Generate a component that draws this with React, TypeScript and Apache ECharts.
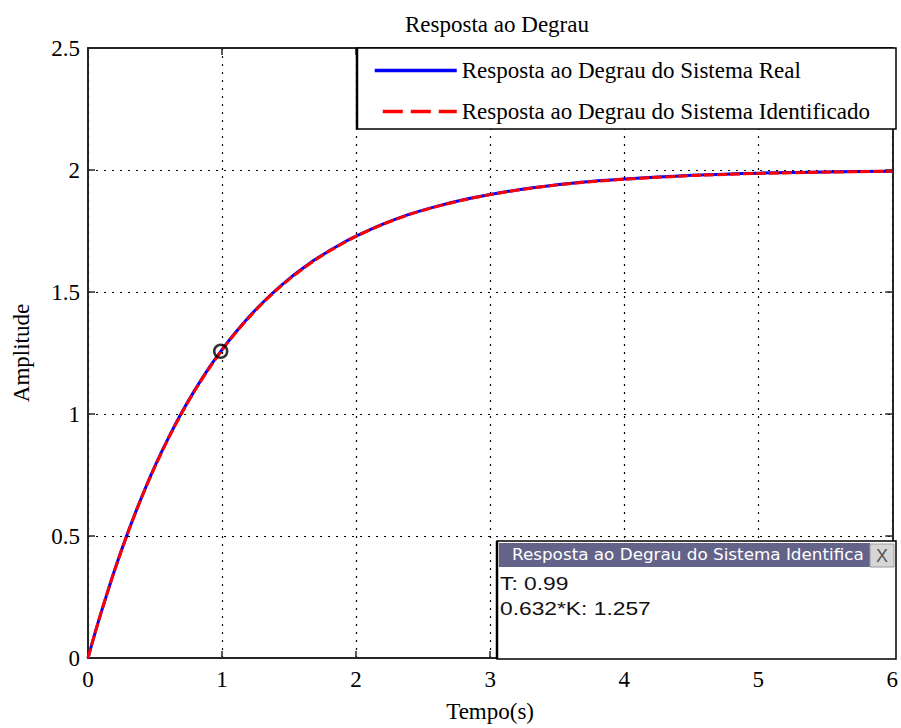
import React, { useEffect, useRef } from "react";
import * as echarts from "echarts";

const chartTitle = "Resposta ao Degrau";
const xAxisName = "Tempo(s)";
const yAxisName = "Amplitude";
const seriesNames = [
  "Resposta ao Degrau do Sistema Real",
  "Resposta ao Degrau do Sistema Identificado",
];
const timeS = [0, 0.05, 0.1, 0.2, 0.3, 0.4, 0.5, 0.6, 0.7, 0.8, 0.9, 1.0, 1.1, 1.2, 1.3, 1.4, 1.5, 1.6, 1.7, 1.8, 1.9, 2.0, 2.2, 2.4, 2.6, 2.8, 3.0, 3.25, 3.5, 3.75, 4.0, 4.25, 4.5, 4.75, 5.0, 5.5, 6.0];
const realResponse = [0, 0.098, 0.19, 0.363, 0.518, 0.659, 0.787, 0.902, 1.007, 1.101, 1.187, 1.264, 1.334, 1.398, 1.455, 1.507, 1.554, 1.596, 1.635, 1.669, 1.701, 1.729, 1.778, 1.819, 1.851, 1.878, 1.9, 1.922, 1.94, 1.953, 1.963, 1.971, 1.978, 1.983, 1.987, 1.992, 1.995];
const identifiedResponse = [0, 0.098, 0.19, 0.362, 0.517, 0.658, 0.785, 0.9, 1.004, 1.099, 1.184, 1.262, 1.332, 1.395, 1.453, 1.505, 1.552, 1.594, 1.633, 1.668, 1.699, 1.728, 1.777, 1.818, 1.85, 1.877, 1.899, 1.921, 1.939, 1.952, 1.962, 1.97, 1.977, 1.982, 1.986, 1.991, 1.995];
const markerT = 0.99;
const markerAmp = 1.257;
const tipTitle = "Resposta ao Degrau do Sistema Identificado";
const tipLines = ["T: 0.99", "0.632*K: 1.257"];

const SERIF = "'Liberation Serif', 'Times New Roman', serif";
const SANS = "'Liberation Sans', Arial, sans-serif";
const AXIS_COLOR = "#262626";

export default function App() {
  const ref = useRef<HTMLDivElement>(null);
  useEffect(() => {
    if (!ref.current) return;
    const chart = echarts.init(ref.current, undefined, { renderer: "svg" });
    const realData = timeS.map((t, i) => [t, realResponse[i]]);
    const identData = timeS.map((t, i) => [t, identifiedResponse[i]]);
    const gl = 88, gr = 896, gt = 48, gb = 659;

    const baseX = { type: "value", min: 0, max: 6, interval: 1 };
    const baseY = { type: "value", min: 0, max: 2.5, interval: 0.5 };
    const axisLine = { show: true, onZero: false, lineStyle: { color: AXIS_COLOR, width: 2 } };
    const axisTick = { show: true, inside: true, length: 7, lineStyle: { color: AXIS_COLOR, width: 1.5 } };
    const gridLine = { show: true, lineStyle: { color: "#000", type: [2, 6], width: 1.2 } };

    chart.setOption({
      animation: false,
      backgroundColor: "#ffffff",
      title: {
        text: chartTitle,
        left: (gl + gr) / 2,
        textAlign: "center",
        top: 8,
        textStyle: { fontFamily: SERIF, fontSize: 23, fontWeight: "normal", color: "#000" },
      },
      grid: { left: gl, right: 901 - gr, top: gt, bottom: 728 - gb },
      legend: {
        orient: "vertical",
        left: 373,
        top: 59,
        padding: 0,
        itemWidth: 82,
        itemHeight: 14,
        itemGap: 18,
        selectedMode: false,
        itemStyle: { opacity: 0 },
        textStyle: { fontFamily: SERIF, fontSize: 23, color: "#000", padding: [0, 0, 0, 0] },
        z: 20,
        data: [
          { name: seriesNames[0], lineStyle: { width: 3.5, color: "#0000ff", type: "solid" } },
          { name: seriesNames[1], lineStyle: { width: 3.5, color: "#ff0000", type: [20, 8], dashOffset: 20 } },
        ],
      },
      xAxis: [
        {
          ...baseX,
          position: "bottom",
          name: xAxisName,
          nameLocation: "middle",
          nameGap: 42,
          nameTextStyle: { fontFamily: SERIF, fontSize: 23, color: "#000" },
          axisLine,
          axisTick,
          axisLabel: { fontFamily: SERIF, fontSize: 23, color: "#000", margin: 10 },
          splitLine: gridLine,
        },
        {
          ...baseX,
          position: "top",
          axisLine,
          axisTick,
          axisLabel: { show: false },
          splitLine: { show: false },
        },
      ],
      yAxis: [
        {
          ...baseY,
          position: "left",
          name: yAxisName,
          nameLocation: "middle",
          nameGap: 55,
          nameTextStyle: { fontFamily: SERIF, fontSize: 23, color: "#000" },
          axisLine,
          axisTick,
          axisLabel: { fontFamily: SERIF, fontSize: 23, color: "#000", margin: 8 },
          splitLine: gridLine,
        },
        {
          ...baseY,
          position: "right",
          axisLine,
          axisTick,
          axisLabel: { show: false },
          splitLine: { show: false },
        },
      ],
      series: [
        {
          name: seriesNames[0],
          type: "line",
          data: realData,
          smooth: 0.3,
          symbol: "none",
          lineStyle: { color: "#0000ff", width: 3 },
          itemStyle: { color: "#0000ff" },
          z: 3,
        },
        {
          name: seriesNames[1],
          type: "line",
          data: identData,
          smooth: 0.3,
          symbol: "none",
          lineStyle: { color: "#ff0000", width: 3, type: [10, 3] },
          itemStyle: { color: "#ff0000" },
          z: 4,
        },
        {
          name: "marker",
          type: "scatter",
          data: [[markerT, markerAmp]],
          symbol: "circle",
          symbolSize: 13,
          itemStyle: { color: "rgba(0,0,0,0)", borderColor: "#000", borderWidth: 2.5 },
          z: 6,
          silent: true,
        },
      ],
      graphic: [
        {
          type: "rect",
          z: 10,
          shape: { x: 357, y: 48, width: gr - 357, height: 81 },
          style: { fill: "#fff", stroke: "#000", lineWidth: 1.5 },
        },
        {
          type: "line",
          z: 11,
          shape: { x1: 357, y1: 48, x2: 357, y2: 129 },
          style: { stroke: "#000", lineWidth: 2.5 },
        },
        {
          type: "rect",
          z: 10,
          shape: { x: 497, y: 541, width: gr - 497, height: gb - 541 },
          style: { fill: "#fff", stroke: "#000", lineWidth: 1.5 },
        },
        {
          type: "line",
          z: 11,
          shape: { x1: 497, y1: 541, x2: 497, y2: gb },
          style: { stroke: "#000", lineWidth: 2.5 },
        },
        {
          type: "rect",
          z: 11,
          shape: { x: 499, y: 543, width: 371, height: 24 },
          style: { fill: "#63638a" },
        },
        {
          type: "text",
          z: 12,
          x: 512,
          y: 555,
          scaleX: 1.12,
          style: {
            text: tipTitle,
            fontFamily: "'DejaVu Sans', Tahoma, sans-serif",
            fontSize: 15,
            fill: "#fff",
            verticalAlign: "middle",
            width: 318,
            overflow: "truncate",
            ellipsis: "",
          },
        },
        {
          type: "rect",
          z: 12,
          shape: { x: 870, y: 544, width: 24, height: 23 },
          style: { fill: "#d6d6d6", stroke: "#9a9a9a", lineWidth: 1 },
        },
        {
          type: "text",
          z: 13,
          x: 882,
          y: 556,
          style: {
            text: "X",
            fontFamily: SANS,
            fontSize: 18,
            fill: "#555",
            align: "center",
            verticalAlign: "middle",
          },
        },
        {
          type: "text",
          z: 12,
          x: 500,
          y: 583,
          scaleX: 1.2,
          style: { text: tipLines[0], fontFamily: SANS, fontSize: 19, fill: "#111", verticalAlign: "middle" },
        },
        {
          type: "text",
          z: 12,
          x: 500,
          y: 608,
          scaleX: 1.2,
          style: { text: tipLines[1], fontFamily: SANS, fontSize: 19, fill: "#111", verticalAlign: "middle" },
        },
      ],
    });
    return () => chart.dispose();
  }, []);
  return (
    <div
      ref={ref}
      style={{ position: "fixed", left: 0, top: 0, width: 901, height: 728, background: "#fff" }}
    />
  );
}
